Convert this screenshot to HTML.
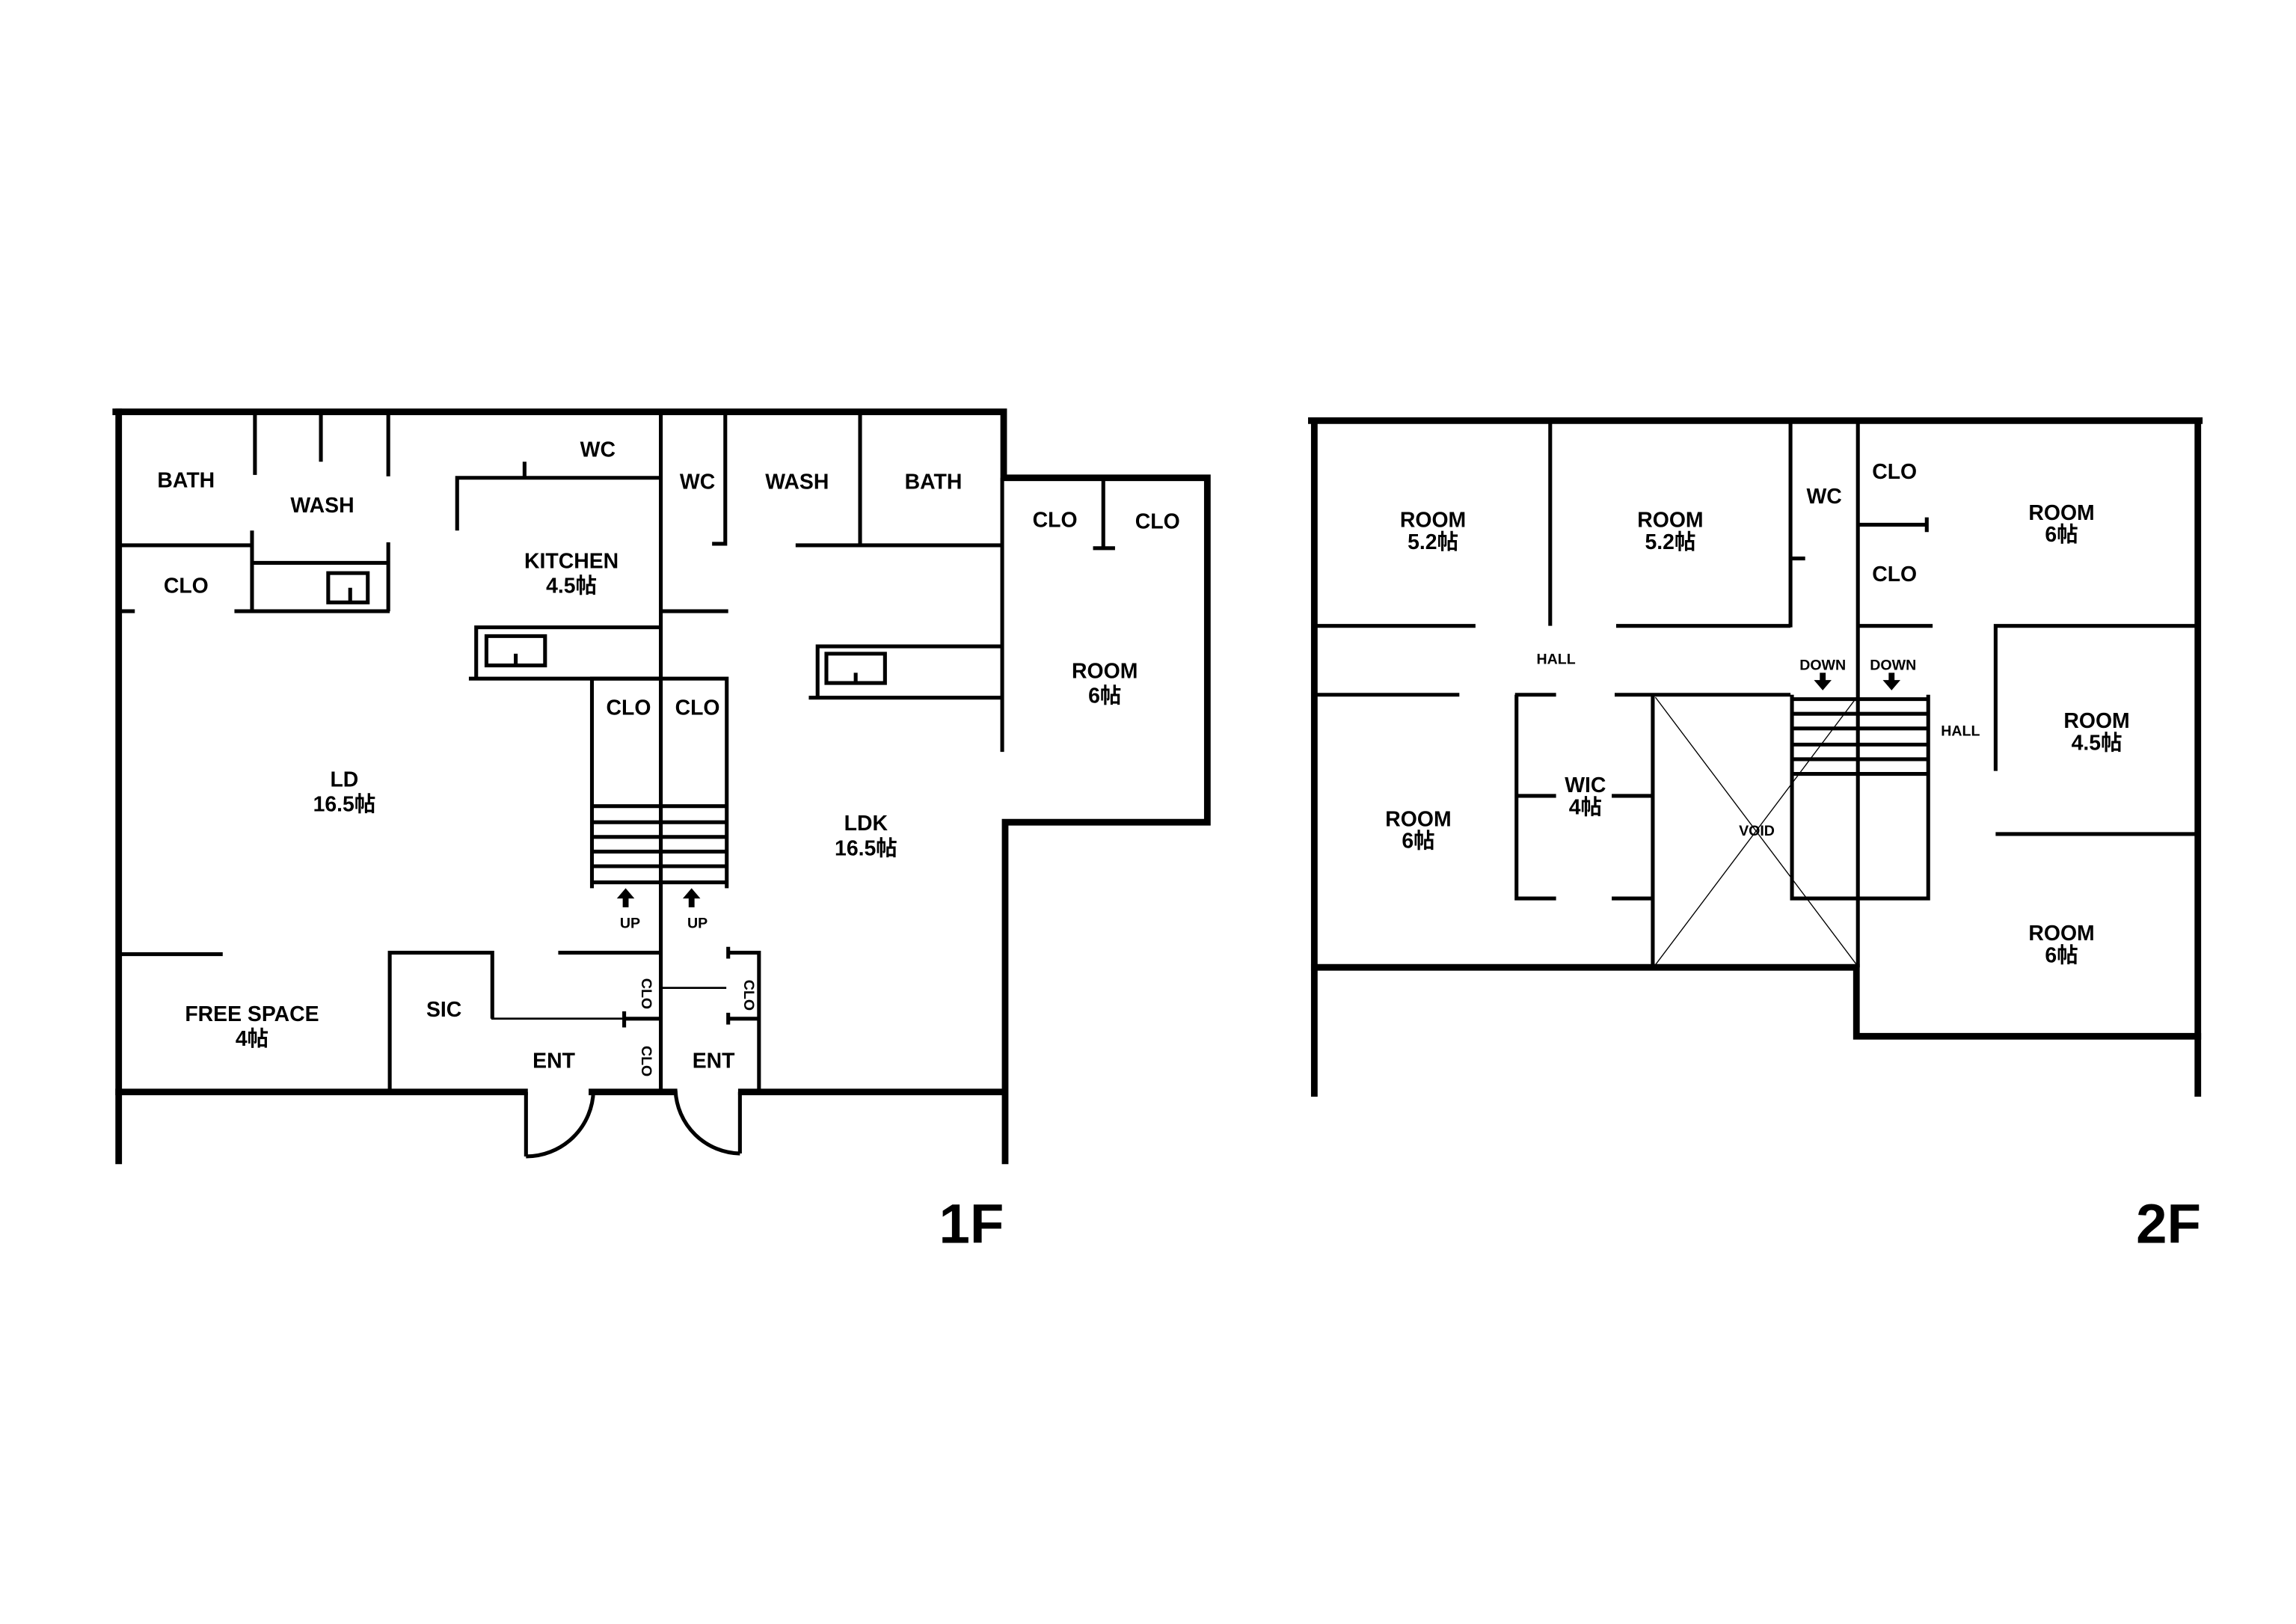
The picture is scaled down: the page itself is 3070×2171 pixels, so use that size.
<!DOCTYPE html>
<html><head><meta charset="utf-8"><style>
html,body{margin:0;padding:0;background:#fff;}
svg{display:block;}
text{font-family:"Liberation Sans","Noto Sans CJK JP",sans-serif;font-weight:bold;fill:#000;text-anchor:middle;dominant-baseline:central;}
.l{font-size:14.5px;}
.s{font-size:10px;}
.b{font-size:38px;}
</style></head><body>
<svg width="3070" height="2171" viewBox="0 0 1567 1108" preserveAspectRatio="none" xmlns="http://www.w3.org/2000/svg">
<rect width="1567" height="1108" fill="#fff"/>
<g stroke="#000" fill="none" stroke-linecap="square">
<!-- 1F outer -->
<g stroke-width="4.5">
<path d="M79 281 H685 V326 H824 V561 H686 V792"/>
<path d="M81 281 V792"/>
<path d="M81 745 H358"/>
<path d="M404 745 H460"/>
<path d="M506 745 H685"/>
</g>
<g stroke-width="2.6" stroke-linecap="butt">
<path d="M174 281 V324 M219 281 V315 M265 281 V325"/>
<path d="M81 372 H172 M172 362 V417 M265 370 V417 M172 384 H265 M160 417 H266 M81 417 H92"/>
<path d="M224 391 H251 V411 H224 Z M239 401 V411"/>
<path d="M312 362 V326 H450 M358 315 V326"/>
<path d="M451 281 V745"/>
<path d="M495 281 V371 H486 M451 417 H497"/>
<path d="M587 281 V372 M543 372 H684"/>
<path d="M320 463 H451 M325 463 V428 H451"/>
<path d="M332 434 H372 V454 H332 Z M352 446 V454"/>
<path d="M404 606 V463 H496 V606"/>
<path d="M404 550 H496 M404 561 H496 M404 571 H496 M404 581 H496 M404 591 H496 M404 602 H496"/>
<path d="M552 476 H684 M558 476 V441 H684"/>
<path d="M564 446 H604 V466 H564 Z M584 459 V466"/>
<path d="M684 326 V513"/>
<path d="M753 326 V374 M746 374 H761"/>
<path d="M81 651 H152"/>
<path d="M266 745 V650 H336 V695"/>
<path d="M381 650 H451"/>
<path d="M426 695 H451 M426 690 V701"/>
<path d="M496 650 H518 V745 M496 695 H518 M497 646 V654 M497 691 V699"/>
<path d="M359 745 V789 M505 745 V787"/>
<path d="M359 789 A46 46 0 0 0 405 744"/>
<path d="M461 744 A45 45 0 0 0 505 787"/>
</g>
<path d="M336 695 H426 M451 674 H495" stroke-width="1.4"/>
<!-- 2F outer -->
<g stroke-width="4.5">
<path d="M895 287 H1501 M897 287 V746 M1500 287 V746"/>
<path d="M897 660 H1267 V707 H1500"/>
</g>
<g stroke-width="2.6" stroke-linecap="butt">
<path d="M1058 287 V427 M1222 287 V428 M1222 381 H1232"/>
<path d="M897 427 H1007 M1103 427 H1222"/>
<path d="M1268 287 V660 M1268 358 H1315 M1315 353 V363 M1268 427 H1319"/>
<path d="M1362 569 H1500 M1362 526 V427 H1500"/>
<path d="M897 474 H996 M1034 474 H1062 M1102 474 H1222"/>
<path d="M1062 613 H1035 V474 M1035 543 H1062 M1100 543 H1128 M1100 613 H1128 M1128 474 V660"/>
<path d="M1223 474 V613 H1316 V474"/>
<path d="M1223 477 H1316 M1223 487 H1316 M1223 497 H1316 M1223 508 H1316 M1223 518 H1316 M1223 528 H1316"/>
</g>
<path d="M1130 476 L1267 658 M1267 476 L1130 658" stroke-width="0.7"/>
</g>
<!-- arrows -->
<g fill="#000">
<path d="M421 613 L427 606 L433 613 H429 V619 H425 V613 Z"/>
<path d="M466 613 L472 606 L478 613 H474 V619 H470 V613 Z"/>
<path d="M1238 464 L1244 471 L1250 464 H1246 V459 H1242 V464 Z"/>
<path d="M1285 464 L1291 471 L1297 464 H1293 V459 H1289 V464 Z"/>
</g>
<!-- 1F labels -->
<g class="l">
<text x="127" y="328">BATH</text>
<text x="220" y="345">WASH</text>
<text x="408" y="307">WC</text>
<text x="390" y="383">KITCHEN</text>
<text x="390" y="400">4.5帖</text>
<text x="476" y="329">WC</text>
<text x="544" y="329">WASH</text>
<text x="637" y="329">BATH</text>
<text x="127" y="400">CLO</text>
<text x="720" y="355">CLO</text>
<text x="790" y="356">CLO</text>
<text x="754" y="458">ROOM</text>
<text x="754" y="475">6帖</text>
<text x="429" y="483">CLO</text>
<text x="476" y="483">CLO</text>
<text x="235" y="532">LD</text>
<text x="235" y="549">16.5帖</text>
<text x="591" y="562">LDK</text>
<text x="591" y="579">16.5帖</text>
<text x="172" y="692">FREE SPACE</text>
<text x="172" y="709">4帖</text>
<text x="303" y="689">SIC</text>
<text x="378" y="724">ENT</text>
<text x="487" y="724">ENT</text>
</g>
<g class="s">
<text x="430" y="630">UP</text>
<text x="476" y="630">UP</text>
<text transform="translate(441,678) rotate(90)" x="0" y="0">CLO</text>
<text transform="translate(441,724) rotate(90)" x="0" y="0">CLO</text>
<text transform="translate(511,679) rotate(90)" x="0" y="0">CLO</text>
</g>
<!-- 2F labels -->
<g class="l">
<text x="978" y="355">ROOM</text>
<text x="978" y="370">5.2帖</text>
<text x="1140" y="355">ROOM</text>
<text x="1140" y="370">5.2帖</text>
<text x="1245" y="339">WC</text>
<text x="1293" y="322">CLO</text>
<text x="1293" y="392">CLO</text>
<text x="1407" y="350">ROOM</text>
<text x="1407" y="365">6帖</text>
<text x="1431" y="492">ROOM</text>
<text x="1431" y="507">4.5帖</text>
<text x="968" y="559">ROOM</text>
<text x="968" y="574">6帖</text>
<text x="1082" y="536">WIC</text>
<text x="1082" y="551">4帖</text>
<text x="1407" y="637">ROOM</text>
<text x="1407" y="652">6帖</text>
</g>
<g class="s">
<text x="1062" y="450">HALL</text>
<text x="1338" y="499">HALL</text>
<text x="1199" y="567">VOID</text>
<text x="1244" y="454">DOWN</text>
<text x="1292" y="454">DOWN</text>
</g>
<text class="b" x="663" y="835">1F</text>
<text class="b" x="1480" y="835">2F</text>
</svg>
</body></html>
